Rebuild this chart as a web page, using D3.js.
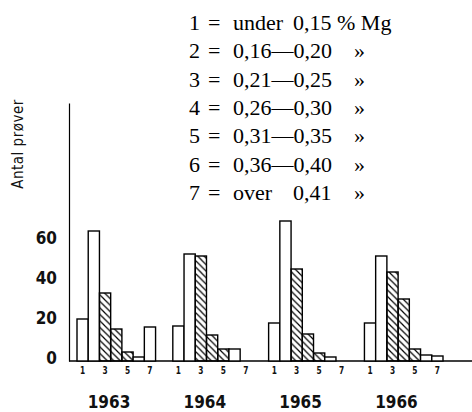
<!DOCTYPE html>
<html>
<head>
<meta charset="utf-8">
<script src="https://cdn.jsdelivr.net/npm/d3@7"></script>
<style>
  body { margin: 0; background: #fff; }
  .sans { font-family: "DejaVu Sans Condensed", "DejaVu Sans", sans-serif; font-stretch: condensed; }
  .serif { font-family: "Liberation Serif", "Times New Roman", serif; }
</style>
</head>
<body>
<script>

// Antal prøver pr. Mg-klasse og år
var years = ["1963", "1964", "1965", "1966"];
var classes = [1, 2, 3, 4, 5, 6, 7];
var counts1963 = [21, 65, 34, 16, 4.5, 2, 17];
var counts1964 = [17.5, 53.5, 52.5, 13, 6, 6, 0];
var counts1965 = [19, 70, 46, 13.5, 4, 2, 0];
var counts1966 = [19, 52.5, 44.5, 31, 6, 3, 2.5];
var yTicks = [0, 20, 40, 60];
var xTickClasses = [1, 3, 5, 7];
var hatchedClasses = [3, 4, 5];

// Forklaring
var legendCodes = ["1", "2", "3", "4", "5", "6", "7"];
var legendPrefix = ["under", "", "", "", "", "", "over"];
var legendRanges = ["0,15 % Mg", "0,16—0,20", "0,21—0,25", "0,26—0,30", "0,31—0,35", "0,36—0,40", "0,41"];
var legendDitto = ["", "»", "»", "»", "»", "»", "»"];

var countsByYear = [counts1963, counts1964, counts1965, counts1966];

var width = 472, height = 412;
var left = 69;

var svg = d3.select("body").append("svg")
    .attr("width", width)
    .attr("height", height);

// skravering
svg.append("defs").append("pattern")
    .attr("id", "hatch")
    .attr("patternUnits", "userSpaceOnUse")
    .attr("width", 6.5)
    .attr("height", 6.5)
  .append("path")
    .attr("d", "M0,0L6.5,6.5M-1,5.5L1,7.5M5.5,-1L7.5,1")
    .attr("stroke", "#000")
    .attr("stroke-width", 1.2);

var y = d3.scaleLinear().domain([0, 129]).range([361, 103]);

var x0 = d3.scaleBand()
    .domain(years)
    .range([77, 443])
    .paddingInner(0.18);

var x1 = d3.scaleBand()
    .domain(classes)
    .range([0, x0.bandwidth()]);

var data = [];
for (var i = 0; i < years.length; i++) {
  for (var j = 0; j < classes.length; j++) {
    data.push({
      year: years[i],
      cls: classes[j],
      value: countsByYear[i][j],
      hatched: hatchedClasses.indexOf(classes[j]) >= 0
    });
  }
}

// grundlinje
svg.append("line")
    .attr("x1", left)
    .attr("x2", width)
    .attr("y1", y(0))
    .attr("y2", y(0))
    .attr("stroke", "#000")
    .attr("stroke-width", 1.3);

svg.selectAll(".bar")
    .data(data.filter(function(d) { return d.value > 0; }))
    .enter().append("rect")
    .attr("class", "bar")
    .attr("x", function(d) { return x0(d.year) + x1(d.cls); })
    .attr("y", function(d) { return y(d.value); })
    .attr("width", x1.bandwidth())
    .attr("height", function(d) { return y(0) - y(d.value); })
    .attr("fill", function(d) { return d.hatched ? "url(#hatch)" : "#fff"; })
    .attr("stroke", "#000")
    .attr("stroke-width", 1.4);

// y-akse
var yAxis = svg.append("g")
    .attr("class", "sans")
    .attr("transform", "translate(" + left + ",0)")
    .call(d3.axisLeft(y).tickValues(yTicks).tickSize(0).tickPadding(12).tickFormat(d3.format("d")));

yAxis.select(".domain").attr("stroke", "#000").attr("stroke-width", 1.2);
yAxis.selectAll("text")
    .attr("font-size", "17px")
    .attr("font-weight", "bold")
    .attr("font-family", null)
    .attr("fill", "#111")
    .attr("dy", "0.15em");

svg.append("text")
    .attr("class", "sans")
    .attr("transform", "translate(23,144) rotate(-90)")
    .attr("text-anchor", "middle")
    .attr("font-size", "15px")
    .attr("letter-spacing", "0.5px")
    .attr("fill", "#111")
    .text("Antal prøver");

// klasse-numre under søjlerne
var tickData = [];
years.forEach(function(yr) {
  xTickClasses.forEach(function(c) { tickData.push({year: yr, cls: c}); });
});

svg.selectAll(".xtick")
    .data(tickData)
    .enter().append("text")
    .attr("class", "xtick sans")
    .attr("transform", function(d) {
      return "translate(" + (x0(d.year) + x1(d.cls) + x1.bandwidth() / 2) + ",374) scale(0.75,1)";
    })
    .attr("text-anchor", "middle")
    .attr("font-size", "11px")
    .attr("font-weight", "bold")
    .attr("fill", "#111")
    .text(function(d) { return d.cls; });

svg.selectAll(".year")
    .data(years)
    .enter().append("text")
    .attr("class", "year sans")
    .attr("x", function(d) { return x0(d) + 32; })
    .attr("y", 408)
    .attr("text-anchor", "middle")
    .attr("font-size", "17px")
    .attr("font-weight", "bold")
    .attr("fill", "#111")
    .text(function(d) { return d; });

// forklaring
var legend = svg.append("g")
    .attr("class", "serif")
    .attr("font-size", "22px")
    .attr("fill", "#000");

var rows = legend.selectAll(".row")
    .data(legendCodes)
    .enter().append("g")
    .attr("class", "row")
    .attr("transform", function(d, i) { return "translate(0," + (30 + i * 28.33) + ")"; });

rows.append("text").attr("x", 189).text(function(d) { return d; });
rows.append("text").attr("x", 208).text("=");
rows.append("text").attr("x", 233).text(function(d, i) { return legendPrefix[i]; });
rows.append("text")
    .attr("x", function(d, i) { return legendPrefix[i] ? 293 : 233; })
    .text(function(d, i) { return legendRanges[i]; });
rows.append("text").attr("x", 354).text(function(d, i) { return legendDitto[i]; });

</script>
</body>
</html>
